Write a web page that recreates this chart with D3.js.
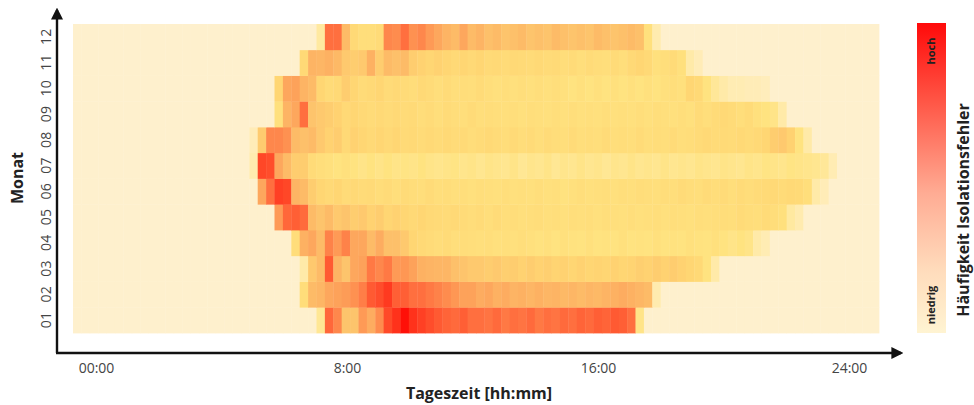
<!DOCTYPE html>
<html lang="de">
<head>
<meta charset="UTF-8" />
<title>Häufigkeit Isolationsfehler</title>
<script src="https://d3js.org/d3.v7.min.js"></script>
<style>
  body { margin: 0; background: #fff; font-family: "Open Sans", sans-serif; }
  .tick text { fill: #444; }
</style>
</head>
<body>
<svg width="974" height="405"></svg>
<script>
// months, bottom to top
const months = ["01", "02", "03", "04", "05", "06", "07", "08", "09", "10", "11", "12"];
// 96 quarter-hour slots per day; each month lists its first non-empty slot
const startSlot = [29, 27, 27, 26, 24, 22, 21, 21, 24, 24, 27, 29];
// relative frequency (0..100) from the first slot onward, empty slots elsewhere
const m01 = [15,75,62,38,38,55,48,60,85,92,100,92,88,84,80,76,74,78,72,72,70,74,68,72,70,74,68,72,70,74,72,76,74,78,76,80,78,72,18];
const m02 = [25,42,44,50,52,54,58,66,80,84,90,78,78,72,72,68,64,60,56,52,52,48,50,46,48,45,46,44,46,44,45,43,44,42,44,43,45,46,48,46,44,42,8];
const m03 = [10,36,42,80,45,38,50,52,68,62,68,55,56,52,46,45,44,44,40,38,36,36,34,36,33,34,32,34,32,33,31,32,30,32,30,31,30,32,30,31,33,32,34,32,34,32,30,28,20,10];
const m04 = [25,46,50,42,64,55,64,50,50,42,48,40,40,36,30,28,26,25,26,24,25,24,23,24,22,23,22,24,22,21,22,20,22,21,20,22,20,21,20,22,20,21,20,22,20,21,20,22,21,20,22,20,18,20,18,10,7];
const m05 = [55,75,78,74,42,38,42,36,38,34,36,32,34,30,32,30,28,30,28,27,26,28,26,25,26,24,26,24,25,23,24,25,23,24,22,24,23,24,22,24,23,22,24,22,23,24,22,24,23,22,24,23,24,25,24,26,25,24,26,25,22,12,8];
const m06 = [50,72,88,86,45,42,34,30,28,30,26,28,26,27,25,26,24,26,25,24,26,24,25,23,24,22,24,23,22,24,22,23,22,24,22,23,21,22,24,22,23,24,22,24,23,25,24,23,25,24,26,25,24,26,25,26,24,26,25,26,27,28,26,28,27,24,10,6];
const m07 = [8,86,84,50,42,34,34,26,24,22,20,22,20,18,20,18,20,18,19,18,20,18,17,18,19,17,18,16,18,17,16,18,15,17,16,18,15,17,16,18,16,17,15,17,16,18,16,17,16,18,16,17,16,18,17,16,18,17,16,18,17,19,18,17,19,18,17,16,14,7];
const m08 = [6,35,62,62,58,42,40,42,36,32,34,28,32,30,28,30,28,30,27,28,26,28,26,28,26,27,25,26,28,26,25,27,25,26,24,26,25,24,26,24,25,24,26,24,25,24,26,24,25,24,26,24,25,26,28,26,27,26,28,26,28,30,34,36,32,20,10];
const m09 = [22,45,50,72,38,36,34,32,28,30,28,26,28,26,28,26,27,25,26,24,26,25,24,26,24,25,24,23,24,22,24,23,22,24,22,24,22,23,22,24,22,23,22,24,22,24,23,22,24,22,26,24,26,28,26,24,26,22,20,18,10];
const m10 = [30,50,52,45,42,30,26,28,34,30,26,28,30,26,28,26,25,28,26,24,26,24,25,24,26,24,22,24,22,24,22,24,22,24,22,20,22,20,22,20,22,20,22,20,22,20,22,24,22,30,28,20,14,10,7,7,6,6,5];
const m11 = [28,45,44,46,43,36,34,36,46,34,42,40,42,34,32,30,32,30,28,30,28,30,27,28,26,28,27,26,28,26,27,25,26,24,26,25,24,26,24,28,30,28,22,24,26,22,10,6];
const m12 = [12,72,72,42,28,24,24,26,62,60,72,58,62,55,50,45,42,50,42,45,40,42,38,40,42,38,40,38,42,40,38,40,38,42,40,38,40,42,40,22,8];
// x tick labels
const timeTicks = [0, 8, 16, 24];
const timeLabels = ["00:00", "8:00", "16:00", "24:00"];

const series = [m01, m02, m03, m04, m05, m06, m07, m08, m09, m10, m11, m12];
const slots = d3.range(96);

const cells = [];
months.forEach((m, i) => {
  slots.forEach(s => {
    const k = s - startSlot[i];
    const v = k >= 0 && k < series[i].length ? series[i][k] : 0;
    cells.push({ month: m, slot: s, value: v });
  });
});

const svg = d3.select("svg");

const x = d3.scaleBand().domain(slots).range([73, 879]);
const y = d3.scaleBand().domain(months).range([333, 24]);
const xTime = d3.scaleLinear().domain([0, 24]).range([96, 849]);

const color = d3.scaleLinear()
  .domain([0, 10, 20, 30, 40, 50, 60, 70, 80, 90, 100])
  .range(["#fef0cd", "#ffeaa8", "#ffe380", "#ffd673", "#fdc06a", "#fda75d",
          "#fe8c4e", "#ff7442", "#ff5a32", "#ff3a20", "#ff1008"]);

// heatmap cells
svg.append("g")
  .selectAll("rect")
  .data(cells)
  .join("rect")
    .attr("x", d => x(d.slot))
    .attr("y", d => y(d.month))
    .attr("width", x.bandwidth() + 0.4)
    .attr("height", y.bandwidth() + 0.4)
    .attr("fill", d => color(d.value));

// arrow axes
const defs = svg.append("defs");
defs.append("marker")
    .attr("id", "arrow")
    .attr("viewBox", "0 0 10 10")
    .attr("refX", 8).attr("refY", 5)
    .attr("markerWidth", 5).attr("markerHeight", 5)
    .attr("orient", "auto")
  .append("path")
    .attr("d", "M0,0 L10,5 L0,10 Z")
    .attr("fill", "#111");

svg.append("path")
  .attr("d", "M57,353 L57,10")
  .attr("stroke", "#111").attr("stroke-width", 2.4).attr("fill", "none")
  .attr("marker-end", "url(#arrow)");
svg.append("path")
  .attr("d", "M56,353 L901,353")
  .attr("stroke", "#111").attr("stroke-width", 2.4).attr("fill", "none")
  .attr("marker-end", "url(#arrow)");

// x tick labels
const xAxis = svg.append("g")
  .attr("transform", "translate(0,360)")
  .call(d3.axisBottom(xTime).tickValues(timeTicks).tickSize(0)
    .tickFormat((d, i) => timeLabels[i]));
xAxis.select(".domain").remove();
xAxis.selectAll("text").attr("font-size", 14).attr("font-family", "Open Sans, sans-serif");

// y tick labels, rotated
const yAxis = svg.append("g")
  .attr("transform", "translate(52,0)")
  .call(d3.axisLeft(y).tickSize(0));
yAxis.select(".domain").remove();
yAxis.selectAll("text")
  .attr("font-size", 14)
  .attr("font-family", "Open Sans, sans-serif")
  .attr("text-anchor", "middle")
  .attr("transform", "rotate(-90)")
  .attr("x", 0).attr("y", 0)
  .attr("dy", "-0.1em");

// axis titles
svg.append("text")
  .attr("x", 479).attr("y", 399)
  .attr("text-anchor", "middle")
  .attr("font-size", 16).attr("font-weight", "bold").attr("fill", "#222")
  .text("Tageszeit [hh:mm]");

svg.append("text")
  .attr("transform", "translate(23,178) rotate(-90)")
  .attr("text-anchor", "middle")
  .attr("font-size", 16).attr("font-weight", "bold").attr("fill", "#222")
  .text("Monat");

// colour bar legend
const grad = defs.append("linearGradient")
  .attr("id", "legendGrad")
  .attr("x1", 0).attr("y1", 1).attr("x2", 0).attr("y2", 0);
[[0, "#fff4d2"], [0.2, "#ffdcbc"], [0.45, "#ffac94"], [0.75, "#ff5545"], [1, "#ff0a0a"]]
  .forEach(([o, c]) => grad.append("stop").attr("offset", o).attr("stop-color", c));

svg.append("rect")
  .attr("x", 917).attr("y", 23)
  .attr("width", 29).attr("height", 310)
  .attr("fill", "url(#legendGrad)");

svg.append("text")
  .attr("transform", "translate(935,51) rotate(-90)")
  .attr("text-anchor", "middle")
  .attr("font-size", 11).attr("font-weight", "bold").attr("fill", "#222")
  .text("hoch");
svg.append("text")
  .attr("transform", "translate(935,305) rotate(-90)")
  .attr("text-anchor", "middle")
  .attr("font-size", 11).attr("font-weight", "bold").attr("fill", "#222")
  .text("niedrig");

svg.append("text")
  .attr("transform", "translate(969,210) rotate(-90)")
  .attr("text-anchor", "middle")
  .attr("font-size", 16).attr("font-weight", "bold").attr("fill", "#222")
  .text("Häufigkeit Isolationsfehler");
</script>
</body>
</html>
